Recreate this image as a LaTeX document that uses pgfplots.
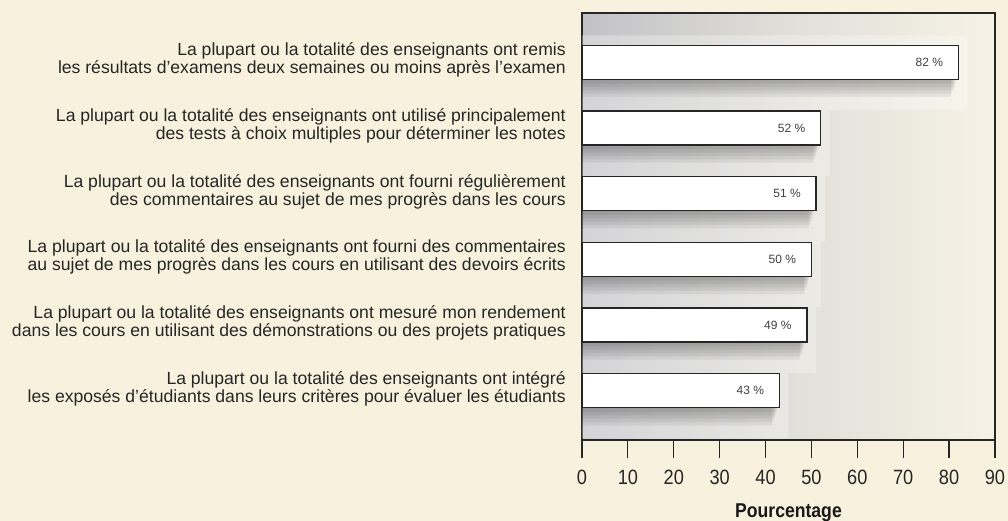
\documentclass[border=0pt]{standalone}
\usepackage{fontspec}
\setmainfont{Liberation Sans}
\newfontfamily\condfont{Liberation Sans}[FakeStretch=0.88]
\usepackage{pgfplots}
\pgfplotsset{compat=1.18}
\definecolor{cream}{RGB}{248,241,221}
\definecolor{bgL}{RGB}{194,194,198}
\definecolor{bgM}{RGB}{224,223,217}
\definecolor{bgR}{RGB}{246,242,228}
\pgfplotstableread{
y x
6 82
5 52
4 51
3 50
2 49
1 43
}\datatab
\pgfplotsset{shadowlayer/.style={xbar, bar width=#1, bar shift=-#1/2, fill=black, fill opacity=0.06, draw=none}}
\begin{document}
\begin{tikzpicture}[x=1pt,y=1pt]
\useasboundingbox (-436.5,-60.75) rectangle (319.5,330);
\fill[cream] (-436.5,-60.75) rectangle (319.5,330);
\begin{axis}[
  at={(0,0)}, anchor=south west,
  scale only axis, width=309.75pt, height=320.25pt,
  xmin=0, xmax=90, ymin=0.25, ymax=6.75,
  axis background/.style={left color=bgL, right color=bgR, middle color=bgM},
  axis line style={line width=0.9pt, black!85},
  xtick={0,10,...,90}, xtick pos=bottom, xtick align=outside,
  major tick length=13.5pt,
  every tick/.style={black!85, line width=0.9pt},
  xticklabel style={font=\condfont\fontsize{15.5}{16}\selectfont, anchor=base, inner sep=0pt, yshift=-20pt, text=black!85},
  /pgf/number format/assume math mode=true,
  ytick={1,...,6}, ytick style={draw=none},
  yticklabels={
    {La plupart ou la totalité des enseignants ont intégré\\les exposés d’étudiants dans leurs critères pour évaluer les étudiants},
    {La plupart ou la totalité des enseignants ont mesuré mon rendement\\dans les cours en utilisant des démonstrations ou des projets pratiques},
    {La plupart ou la totalité des enseignants ont fourni des commentaires\\au sujet de mes progrès dans les cours en utilisant des devoirs écrits},
    {La plupart ou la totalité des enseignants ont fourni régulièrement\\des commentaires au sujet de mes progrès dans les cours},
    {La plupart ou la totalité des enseignants ont utilisé principalement\\des tests à choix multiples pour déterminer les notes},
    {La plupart ou la totalité des enseignants ont remis\\les résultats d’examens deux semaines ou moins après l’examen}},
  yticklabel style={font=\fontsize{13.2}{13.5}\selectfont, align=right, inner sep=0pt, xshift=-12pt, yshift=1.5pt, text=black!85},
  xlabel={Pourcentage},
  xlabel style={font=\condfont\fontsize{15}{16}\selectfont\bfseries, at={(axis description cs:0.5,0)}, anchor=base, yshift=-58.5pt, inner sep=0pt, text=black!90},
  clip=false,
]
\addplot[xbar, bar width=56pt, bar shift=-7.9pt, fill=white, fill opacity=0.3, draw=none]
  coordinates {(84,6) (54,5) (53,4) (52,3) (51,2) (45,1)};
\addplot[shadowlayer=26pt]   coordinates {(80.4,6) (50.4,5) (49.4,4) (48.4,3) (47.4,2) (41.4,1)};
\addplot[shadowlayer=23.5pt] coordinates {(80.7,6) (50.7,5) (49.7,4) (48.7,3) (47.7,2) (41.7,1)};
\addplot[shadowlayer=21pt]   coordinates {(81.0,6) (51.0,5) (50.0,4) (49.0,3) (48.0,2) (42.0,1)};
\addplot[shadowlayer=18.5pt] coordinates {(81.2,6) (51.2,5) (50.2,4) (49.2,3) (48.2,2) (42.2,1)};
\addplot[shadowlayer=16pt]   coordinates {(81.4,6) (51.4,5) (50.4,4) (49.4,3) (48.4,2) (42.4,1)};
\addplot[shadowlayer=13.5pt] coordinates {(81.6,6) (51.6,5) (50.6,4) (49.6,3) (48.6,2) (42.6,1)};
\addplot[shadowlayer=11pt]   coordinates {(81.8,6) (51.8,5) (50.8,4) (49.8,3) (48.8,2) (42.8,1)};
\addplot[shadowlayer=8.5pt]  coordinates {(82.0,6) (52.0,5) (51.0,4) (50.0,3) (49.0,2) (43.0,1)};
\addplot[xbar, bar width=25.5pt, bar shift=0pt, fill=white, draw=black!85, line width=1pt,
  nodes near coords={\pgfmathprintnumber{\pgfplotspointmeta} \%},
  every node near coord/.append style={anchor=east, xshift=-11pt, inner sep=0pt, font=\fontsize{9}{9}\selectfont, text=black!75}]
  table[x=x, y=y] {\datatab};
\end{axis}
\end{tikzpicture}
\end{document}
